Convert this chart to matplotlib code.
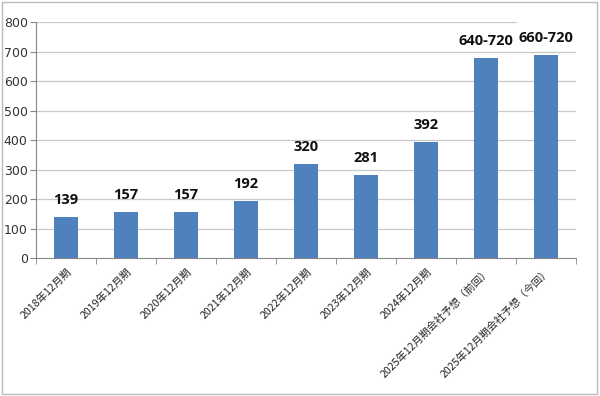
import matplotlib
matplotlib.use("Agg")
import matplotlib.pyplot as plt
from matplotlib.patches import Rectangle

plt.rcParams['font.family'] = ['Noto Sans CJK JP', 'DejaVu Sans']

categories = ["2018年12月期", "2019年12月期", "2020年12月期", "2021年12月期",
              "2022年12月期", "2023年12月期", "2024年12月期",
              "2025年12月期会社予想（前回）", "2025年12月期会社予想（今回）"]
values = [139, 157, 157, 192, 320, 281, 392, 680, 690]
labels = ["139", "157", "157", "192", "320", "281", "392", "640-720", "660-720"]
yticks = [0, 100, 200, 300, 400, 500, 600, 700, 800]

fig = plt.figure(figsize=(6, 3.96), dpi=100)
ax = fig.add_axes([0.06, 0.3485, 0.9, 0.5955])

x = list(range(len(categories)))
ax.bar(x, values, width=0.4, color="#4f81bd", zorder=2)
ax.set_xlim(-0.5, len(categories) - 0.5)
ax.set_ylim(0, 800)
ax.set_yticks(yticks)
ax.set_yticklabels([str(v) for v in yticks], fontsize=9, color="#333333",
                   family=['DejaVu Sans'])
# gridlines (top gridline stops before the last category, as in the reference)
for v in yticks[1:-1]:
    ax.axhline(v, color="#c8c8c8", linewidth=0.9, zorder=0)
ax.hlines(yticks[-1], -0.5, len(categories) - 1.5, color="#c8c8c8", linewidth=0.9, zorder=0)

ax.set_xticks(x)
ax.set_xticklabels(categories, rotation=45, ha="right", rotation_mode="anchor",
                   fontsize=7.6, color="#222222")
ax.tick_params(axis="x", length=0, pad=6)
ax.set_xticks([i - 0.5 for i in range(len(categories) + 1)], minor=True)
ax.tick_params(axis="x", which="minor", length=4, color="#888888")
ax.tick_params(axis="y", length=4, color="#888888", pad=2)

for s in ["top", "right"]:
    ax.spines[s].set_visible(False)
for s in ["left", "bottom"]:
    ax.spines[s].set_color("#888888")

for xi, v, lab in zip(x, values, labels):
    ax.text(xi, v + 44, lab, ha="center", va="baseline", fontsize=10.5,
            fontweight="bold", color="#111111", family=['Open Sans', 'DejaVu Sans'], zorder=3)

fig.patches.append(Rectangle((0.003, 0.004), 0.992, 0.99, transform=fig.transFigure,
                             fill=False, edgecolor="#bbbbbb", linewidth=1))

fig.savefig("out.png", dpi=100)
